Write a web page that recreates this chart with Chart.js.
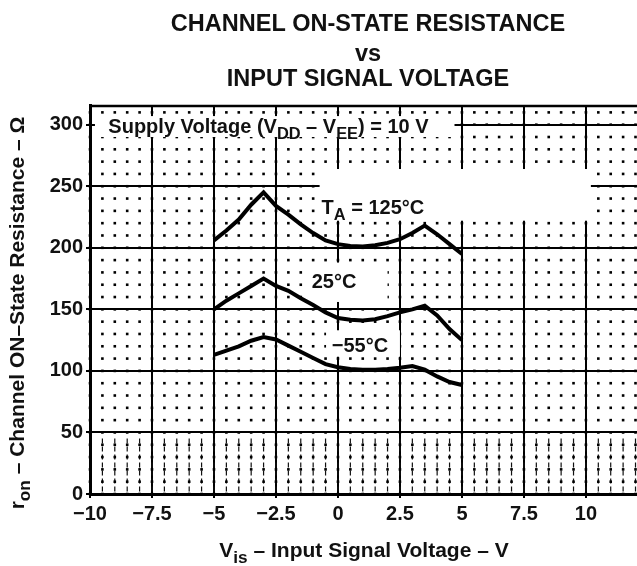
<!DOCTYPE html>
<html>
<head>
<meta charset="utf-8">
<script src="https://cdn.jsdelivr.net/npm/chart.js@4"></script>
<style>
  html, body { margin: 0; padding: 0; background: #fff; }
  canvas { display: block; }
</style>
</head>
<body>
<canvas id="ronChart" width="637" height="566"></canvas>
<script>
// input signal voltage (V)
const vis = [-5, -4.5, -4, -3.5, -3, -2.5, -2, -1.5, -1, -0.5, 0, 0.5, 1, 1.5, 2, 2.5, 3, 3.5, 4, 4.5, 5];
// on-state resistance (ohm) per temperature
const r125 = [206, 214, 223, 235, 245, 234, 227, 219, 212, 206, 203, 201.5, 201, 202, 204, 207, 212, 218, 211, 203, 195];
const r25  = [150, 157, 163, 169, 175, 169, 165, 159, 153.5, 147.5, 143, 141.5, 141, 142, 144.5, 147.5, 150, 153, 145, 134, 125];
const rm55 = [113, 116.5, 120, 124.5, 127.5, 125.5, 120.5, 115.5, 110.5, 105.5, 103, 101.5, 101, 101, 101.5, 102.5, 104, 101, 95.5, 91, 88.5];

const xTicks = [-10, -7.5, -5, -2.5, 0, 2.5, 5, 7.5, 10];
const xTickLabels = ["\u221210", "\u22127.5", "\u22125", "\u22122.5", "0", "2.5", "5", "7.5", "10"];
const yTicks = [0, 50, 100, 150, 200, 250, 300];
const yTickLabels = ["0", "50", "100", "150", "200", "250", "300"];

const FONT = '"Liberation Sans", Arial, sans-serif';

function pts(ys) {
    return vis.map((v, i) => ({ x: v, y: ys[i] }));
}

// text with subscripts: parts = [[text, isSub], ...]
function richWidth(ctx, parts, size) {
    let w = 0;
    parts.forEach(([t, sub]) => {
        ctx.font = "bold " + (sub ? size * 0.82 : size) + "px " + FONT;
        w += ctx.measureText(t).width;
    });
    return w;
}
function drawRich(ctx, parts, x, y, size, align) {
    let w = richWidth(ctx, parts, size);
    let cx = align === "center" ? x - w / 2 : x;
    ctx.textAlign = "left";
    ctx.textBaseline = "alphabetic";
    parts.forEach(([t, sub]) => {
        ctx.font = "bold " + (sub ? size * 0.82 : size) + "px " + FONT;
        ctx.fillText(t, cx, sub ? y + size * 0.28 : y);
        cx += ctx.measureText(t).width;
    });
}

const sheetPlugin = {
    id: "sheet",
    beforeDatasetsDraw(chart) {
        const ctx = chart.ctx;
        const xs = chart.scales.x, ys = chart.scales.y;
        const a = chart.chartArea;
        ctx.save();
        // scanned-look dashes in the lowest band
        ctx.strokeStyle = "#111";
        ctx.lineWidth = 1.2;
        ctx.setLineDash([5, 3]);
        for (let v = -9.5; v <= 12; v += 0.5) {
            const px = xs.getPixelForValue(v);
            ctx.beginPath();
            ctx.moveTo(px, ys.getPixelForValue(45));
            ctx.lineTo(px, a.bottom);
            ctx.stroke();
        }
        ctx.setLineDash([]);
        // minor dotted grid
        ctx.fillStyle = "#000";
        for (let v = -10; v <= 12.01; v += 0.5) {
            for (let r = 0; r <= 316; r += 10) {
                const px = xs.getPixelForValue(v), py = ys.getPixelForValue(r);
                ctx.fillRect(px - 1.3, py - 1.3, 2.6, 2.6);
            }
        }
        // top border
        ctx.lineWidth = 2.5;
        ctx.strokeStyle = "#000";
        ctx.beginPath();
        ctx.moveTo(a.left, a.top + 1);
        ctx.lineTo(a.right, a.top + 1);
        ctx.stroke();

        // label knock-outs
        const box = (x0, x1, y0, y1) => {
            const l = xs.getPixelForValue(x0), r = xs.getPixelForValue(x1);
            const t = ys.getPixelForValue(y1), b = ys.getPixelForValue(y0);
            ctx.fillStyle = "#fff";
            ctx.fillRect(l, t, r - l, b - t);
        };
        box(-9.8, 4.7, 290, 307);
        box(-0.74, 10.2, 222, 264);
        box(-1.2, 2.0, 156, 188);
        box(-0.48, 2.5, 111.5, 133);

        ctx.fillStyle = "#111";
        const at = (x, y) => [xs.getPixelForValue(x), ys.getPixelForValue(y)];
        let p = at(-9.26, 293);
        drawRich(ctx, [["Supply Voltage (V", false], ["DD", true], [" \u2013 V", false], ["EE", true], [") = 10 V", false]], p[0], p[1], 20, "left");
        p = at(-0.66, 227.4);
        drawRich(ctx, [["T", false], ["A", true], [" = 125\u00b0C", false]], p[0], p[1], 20, "left");
        p = at(-1.06, 167.2);
        drawRich(ctx, [["25\u00b0C", false]], p[0], p[1], 20, "left");
        p = at(-0.25, 115.7);
        drawRich(ctx, [["\u221255\u00b0C", false]], p[0], p[1], 20, "left");
        ctx.restore();
    },
    afterDraw(chart) {
        const ctx = chart.ctx;
        ctx.save();
        ctx.fillStyle = "#111";
        drawRich(ctx, [["CHANNEL ON-STATE RESISTANCE", false]], 368, 31, 23.5, "center");
        drawRich(ctx, [["vs", false]], 368, 61, 23.5, "center");
        drawRich(ctx, [["INPUT SIGNAL VOLTAGE", false]], 368, 86, 23.5, "center");
        drawRich(ctx, [["V", false], ["is", true], [" \u2013 Input Signal Voltage \u2013 V", false]], 364, 557, 21, "center");
        ctx.translate(24, 313);
        ctx.rotate(-Math.PI / 2);
        drawRich(ctx, [["r", false], ["on", true], [" \u2013 Channel ON\u2013State Resistance \u2013 \u03a9", false]], 0, 0, 21, "center");
        ctx.restore();
    }
};

const line = (data) => ({
    data: pts(data),
    borderColor: "#000",
    borderWidth: 4,
    pointRadius: 0,
    showLine: true,
    tension: 0,
    fill: false
});

new Chart(document.getElementById("ronChart"), {
    type: "scatter",
    data: {
        datasets: [line(r125), line(r25), line(rm55)]
    },
    options: {
        responsive: false,
        animation: false,
        layout: { padding: { top: 105, right: 0, left: 0, bottom: 0 } },
        plugins: {
            legend: { display: false },
            tooltip: { enabled: false }
        },
        scales: {
            x: {
                type: "linear",
                min: -10,
                max: 12.06,
                afterBuildTicks: (s) => { s.ticks = xTicks.map(v => ({ value: v })); },
                afterFit: (s) => { s.height = 72; },
                ticks: {
                    color: "#111",
                    font: { family: FONT, size: 20, weight: "bold" },
                    padding: 4,
                    maxRotation: 0,
                    autoSkip: false,
                    callback: (v) => xTickLabels[xTicks.indexOf(v)]
                },
                grid: { color: "#000", lineWidth: 2, tickLength: 4 },
                border: { color: "#000", width: 3 }
            },
            y: {
                type: "linear",
                min: 0,
                max: 316,
                afterBuildTicks: (s) => { s.ticks = yTicks.map(v => ({ value: v })); },
                afterFit: (s) => { s.width = 90; },
                ticks: {
                    color: "#111",
                    font: { family: FONT, size: 20, weight: "bold" },
                    padding: 3,
                    autoSkip: false,
                    callback: (v) => yTickLabels[yTicks.indexOf(v)]
                },
                grid: { color: "#000", lineWidth: 2, tickLength: 4 },
                border: { color: "#000", width: 3 }
            }
        }
    },
    plugins: [sheetPlugin]
});
</script>
</body>
</html>
